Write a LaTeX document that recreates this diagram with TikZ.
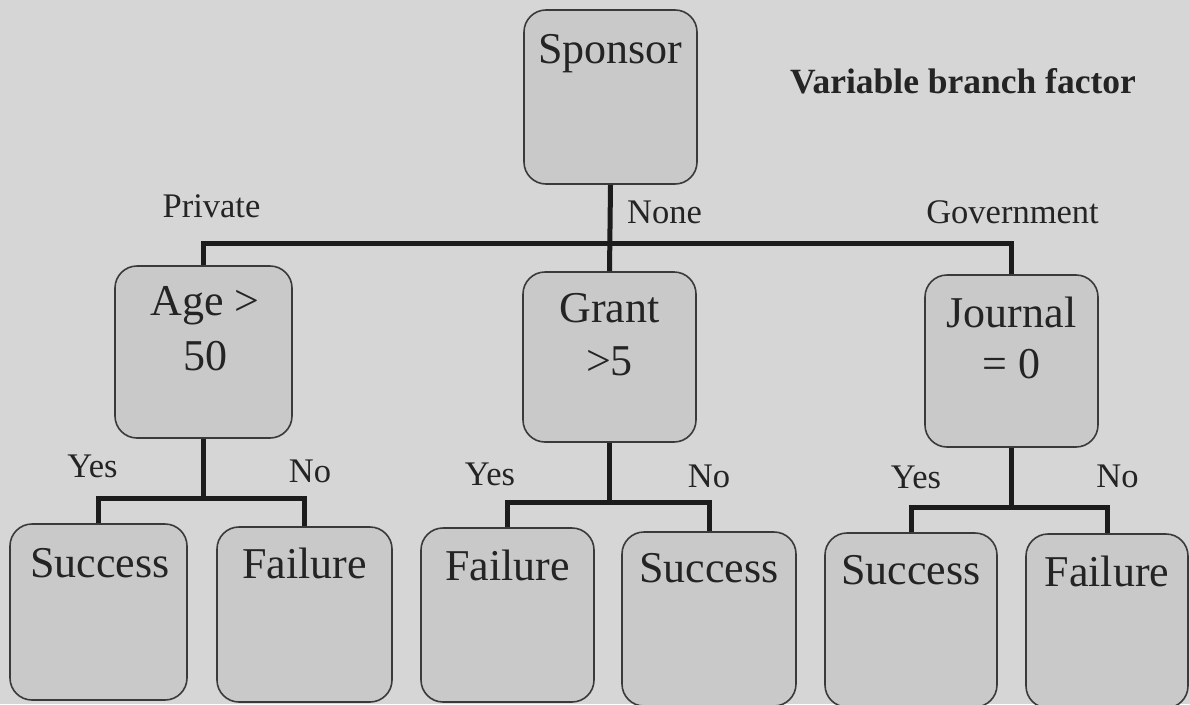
\documentclass[tikz,border=0pt]{standalone}
\usepackage{fontspec}
\setmainfont{Liberation Serif}
\definecolor{paper}{RGB}{214,214,214}
\definecolor{boxfill}{RGB}{201,201,201}
\definecolor{boxline}{RGB}{58,58,58}
\definecolor{wire}{RGB}{28,28,28}
\definecolor{ink}{RGB}{36,36,36}
\begin{document}
\begin{tikzpicture}[x=1pt,y=-1pt,
  box/.style={draw=boxline, fill=boxfill, line width=1.6pt, rounded corners=22pt,
              minimum width=173pt, minimum height=173pt, inner sep=0pt},
  boxtext/.style={inner sep=0pt, anchor=base, text=ink, font=\fontsize{44}{53}\selectfont},
  edgetext/.style={inner sep=0pt, anchor=base, text=ink, font=\fontsize{34.5}{40}\selectfont},
  conn/.style={draw=wire, line width=5pt, line join=miter}]
\useasboundingbox (0,0) rectangle (1190,704);
\clip (0,0) rectangle (1190,704);
\fill[paper] (0,0) rectangle (1190,704);

% decision and leaf boxes
\node[box, minimum height=174pt] (sponsor) at (610.5,97) {};
\node[box, minimum width=177pt, minimum height=172pt] (age) at (203.5,352) {};
\node[box, minimum height=170pt] (grant) at (609.5,357) {};
\node[box, minimum height=172pt] (journal) at (1011.5,361) {};
\node[box, minimum width=177pt, minimum height=176pt] (s1) at (98.5,612) {};
\node[box, minimum width=175pt, minimum height=175pt] (f1) at (304.5,614.5) {};
\node[box, minimum height=174pt] (f2) at (507.5,615) {};
\node[box, minimum width=174pt, minimum height=174pt] (s2) at (709,619) {};
\node[box, minimum width=172pt, minimum height=174pt] (s3) at (911,620) {};
\node[box, minimum width=162pt, minimum height=174pt] (f3) at (1107,621) {};

% box texts
\node[boxtext] (sponsor-t) at (610.5,63) {Sponsor};
\node[boxtext] (age-t1) at (205,315) {Age >};
\node[boxtext] (age-t2) at (205,370) {50};
\node[boxtext] (grant-t1) at (609.5,322) {Grant};
\node[boxtext] (grant-t2) at (609.5,375) {>5};
\node[boxtext] (journal-t1) at (1011.5,327) {Journal};
\node[boxtext] (journal-t2) at (1011.5,378) {= 0};
\node[boxtext] (s1-t) at (100,577) {Success};
\node[boxtext] (f1-t) at (304.5,578) {Failure};
\node[boxtext] (f2-t) at (507.5,580) {Failure};
\node[boxtext] (s2-t) at (709,582) {Success};
\node[boxtext] (s3-t) at (911,584) {Success};
\node[boxtext] (f3-t) at (1107,586) {Failure};

% branch points
\coordinate (top-bar) at (610,243);
\coordinate (age-bar) at (203.5,498);
\coordinate (grant-bar) at (609.5,502);
\coordinate (journal-bar) at (1011.5,507);

% connectors
\draw[conn] (sponsor.south) -- (grant.north);
\draw[conn] (age.north) |- (top-bar) -| (journal.north);
\draw[conn] (age.south) -- (age-bar);
\draw[conn] (s1.north) |- (age-bar) -| (f1.north);
\draw[conn] (grant.south) -- (grant-bar);
\draw[conn] (f2.north) |- (grant-bar) -| (s2.north);
\draw[conn] (journal.south) -- (journal-bar);
\draw[conn] (s3.north) |- (journal-bar) -| (f3.north);

% branch labels
\node[edgetext] (l-private) at (211.5,217) {Private};
\node[edgetext] (l-none) at (664.5,223) {None};
\node[edgetext] (l-gov) at (1012.5,223) {Government};
\node[edgetext] (l-yes1) at (92.5,477) {Yes};
\node[edgetext] (l-no1) at (310,482) {No};
\node[edgetext] (l-yes2) at (490,485) {Yes};
\node[edgetext] (l-no2) at (709,487) {No};
\node[edgetext] (l-yes3) at (916,488) {Yes};
\node[edgetext] (l-no3) at (1117.5,487) {No};

% heading
\node[inner sep=0pt, anchor=base, text=ink, font=\fontsize{35.5}{42}\selectfont\bfseries]
  (heading) at (963,93) {Variable branch factor};
\end{tikzpicture}
\end{document}
